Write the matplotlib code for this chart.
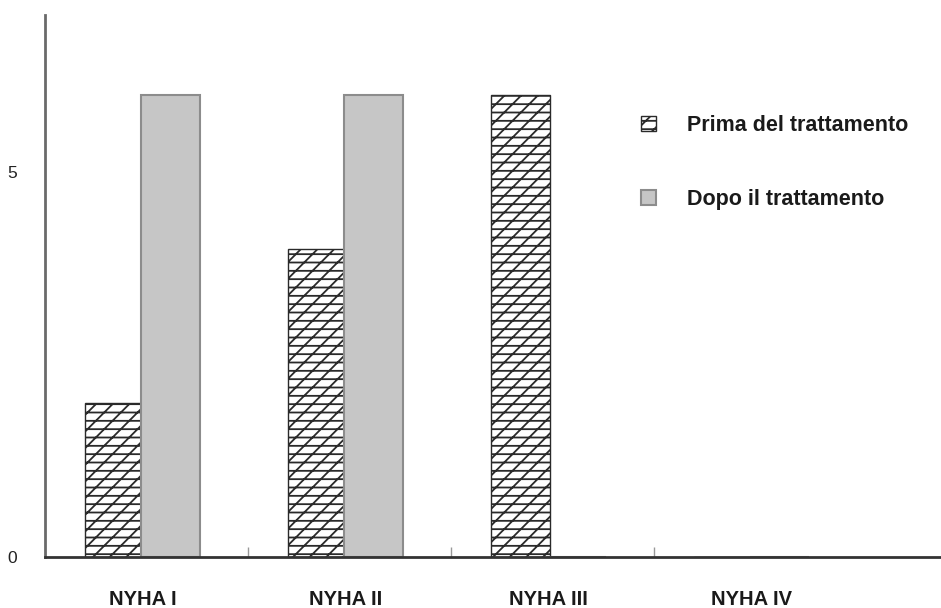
import numpy as np
import matplotlib.pyplot as plt

categories = ["NYHA I", "NYHA II", "NYHA III", "NYHA IV"]
prima = [2, 4, 6, 0]
dopo = [6, 6, 0, 0]
series_labels = ["Prima del trattamento", "Dopo il trattamento"]
y_ticks = [0, 5]

plt.rcParams["font.family"] = ["Liberation Sans", "DejaVu Sans"]
plt.rcParams["hatch.linewidth"] = 1.3

fig = plt.figure(figsize=(9.41, 6.08), dpi=100)
ax = fig.add_axes([0.048, 0.084, 0.951, 0.891])

x = np.arange(len(categories))
width = 0.29
offset = 0.137

b1 = ax.bar(x - offset, prima, width, facecolor="white", edgecolor="#2a2a2a",
            hatch="//--", linewidth=1.0, label=series_labels[0])
b2 = ax.bar(x + offset, dopo, width, facecolor="#c6c6c6", edgecolor="#8c8c8c",
            linewidth=1.5, label=series_labels[1])

ax.set_xlim(-0.48, 3.93)
ax.set_ylim(0, 7.04)

for s in ["top", "right"]:
    ax.spines[s].set_visible(False)
ax.spines["left"].set_color("#6a6a6a")
ax.spines["left"].set_linewidth(2)
ax.spines["bottom"].set_color("#333333")
ax.spines["bottom"].set_linewidth(2)

ax.set_yticks(y_ticks)
ax.set_yticklabels([str(v) for v in y_ticks], fontsize=12.5, color="#222222")
ax.tick_params(axis="y", length=0, pad=20)

ax.set_xticks(x)
ax.set_xticklabels(categories, fontsize=14.5, fontweight="bold", color="#1a1a1a")
ax.tick_params(axis="x", which="major", length=0, pad=24)
ax.set_xticks(x[:-1] + 0.52, minor=True)
ax.tick_params(axis="x", which="minor", direction="in", length=7, width=1, color="#999999")

leg = ax.legend(handles=[b1, b2], loc="upper left", bbox_to_anchor=(0.681, 0.811),
                bbox_transform=fig.transFigure, borderpad=0, borderaxespad=0,
                frameon=False, handlelength=0.7, handleheight=0.7, handletextpad=1.45,
                labelspacing=2.45, prop={"size": 15.5, "weight": "bold"})
for t in leg.get_texts():
    t.set_color("#1a1a1a")

fig.savefig("out.png", dpi=100)
